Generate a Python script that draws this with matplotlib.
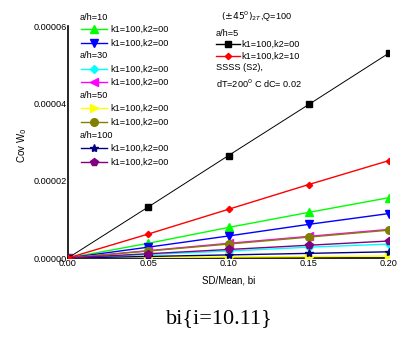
import numpy as np
import matplotlib
matplotlib.use('Agg')
import matplotlib.pyplot as plt

plt.rcParams['font.family'] = ['Liberation Sans', 'DejaVu Sans']

# SD/Mean values
bi = [0.0, 0.05, 0.10, 0.15, 0.20]

# Cov W0 for each case
ah5_k2_00 = [0.0, 1.32e-5, 2.65e-5, 3.97e-5, 5.30e-5]
ah5_k2_10 = [0.0, 6.2e-6, 1.26e-5, 1.90e-5, 2.52e-5]
ah10_a = [0.0, 3.8e-6, 7.9e-6, 1.18e-5, 1.56e-5]
ah10_b = [0.0, 2.8e-6, 5.7e-6, 8.7e-6, 1.15e-5]
ah30_a = [0.0, 0.9e-6, 1.8e-6, 2.8e-6, 3.6e-6]
ah30_b = [0.0, 1.9e-6, 3.8e-6, 5.6e-6, 7.4e-6]
ah50_a = [0.0, 0.12e-6, 0.25e-6, 0.37e-6, 0.5e-6]
ah50_b = [0.0, 1.8e-6, 3.6e-6, 5.4e-6, 7.2e-6]
ah100_a = [0.0, 0.4e-6, 0.8e-6, 1.2e-6, 1.6e-6]
ah100_b = [0.0, 1.1e-6, 2.2e-6, 3.3e-6, 4.4e-6]

lbl = 'k1=100,k2=00'

# (data, colour, marker, marker size)
left_series = [
    ('a/h=10', [(ah10_a, '#00ff00', '^', 5.5), (ah10_b, '#0000ff', 'v', 5.5)]),
    ('a/h=30', [(ah30_a, '#00ffff', 'D', 4), (ah30_b, '#ff00ff', '<', 5.5)]),
    ('a/h=50', [(ah50_a, '#ffff00', '>', 5.5), (ah50_b, '#808000', 'o', 5.5)]),
    ('a/h=100', [(ah100_a, '#000080', '*', 6), (ah100_b, '#800080', 'p', 6)]),
]
right_series = [(ah5_k2_00, 'k', 's', 3.8, 'k1=100,k2=00'),
                (ah5_k2_10, '#ff0000', 'D', 3.2, 'k1=100,k2=10')]

W, H = 410, 345
fig = plt.figure(figsize=(4.1, 3.45), dpi=100)
ax = fig.add_axes([68/W, 1-258/H, (389-68)/W, (258-26)/H])

fs = 6.6

def fx(px):
    return px / W

def fy(py):
    return 1 - py / H

# left legend rows
row_y = [17, 29, 43, 56, 69, 82, 96, 108, 122, 135, 148, 162]
r = 0
for head, items in left_series:
    fig.text(fx(80), fy(row_y[r]), head, fontsize=fs, va='center', ha='left')
    r += 1
    for data, col, mk, ms in items:
        ax.plot(bi, data, color=col, lw=1.0, marker=mk, ms=ms, mec=col, mfc=col, zorder=3)
        y = fy(row_y[r])
        fig.add_artist(plt.Line2D([fx(81), fx(107)], [y, y], color=col, lw=1.0))
        fig.add_artist(plt.Line2D([fx(94)], [y], color=col, marker=mk, ms=ms, mec=col, mfc=col))
        fig.text(fx(110), y, lbl, fontsize=fs, va='center', ha='left')
        r += 1

for data, col, mk, ms, name in right_series:
    lw = 0.7 if col == 'k' else 1.0
    ax.plot(bi, data, color=col, lw=lw, marker=mk, ms=ms, mec=col, mfc=col, zorder=3)

# right text block
fig.text(fx(221), fy(17), r'$(\pm45^0)_{2T}$,Q=100', fontsize=fs, va='center', ha='left')
fig.text(fx(216), fy(33), 'a/h=5', fontsize=fs, va='center', ha='left')
for (data, col, mk, ms, name), yy in zip(right_series, [44, 56]):
    y = fy(yy)
    fig.add_artist(plt.Line2D([fx(216), fx(240)], [y, y], color=col, lw=1.0))
    fig.add_artist(plt.Line2D([fx(228)], [y], color=col, marker=mk, ms=ms, mec=col, mfc=col))
    fig.text(fx(241), y, name, fontsize=fs, va='center', ha='left')
fig.text(fx(216), fy(68), 'SSSS (S2),', fontsize=fs, va='center', ha='left')
fig.text(fx(216), fy(84), r'dT=200$^0$ C dC= 0.02', fontsize=fs, va='center', ha='left')

ax.set_xlim(0, 0.2)
ax.set_ylim(0, 6e-5)
ax.set_xticks([0, 0.05, 0.10, 0.15, 0.20])
ax.set_xticklabels(['%.2f' % v for v in [0, 0.05, 0.10, 0.15, 0.20]])
ax.set_yticks([0, 2e-5, 4e-5, 6e-5])
ax.set_yticklabels(['0.00000', '0.00002', '0.00004', '0.00006'])
ax.tick_params(length=0, labelsize=fs, pad=1)
for s in ['top', 'right']:
    ax.spines[s].set_visible(False)
for s in ['left', 'bottom']:
    ax.spines[s].set_linewidth(1.2)

ax.set_xlabel('SD/Mean, bi', fontsize=fs + 0.4, labelpad=5)
fig.text(fx(22), fy(145), r'Cov W$_0$', fontsize=fs + 0.4, rotation=90, va='center', ha='center')

fig.text(fx(219), fy(319), 'bi{i=10.11}', fontsize=16, family='Liberation Serif',
         va='center', ha='center')

fig.savefig('out.png', dpi=100)
